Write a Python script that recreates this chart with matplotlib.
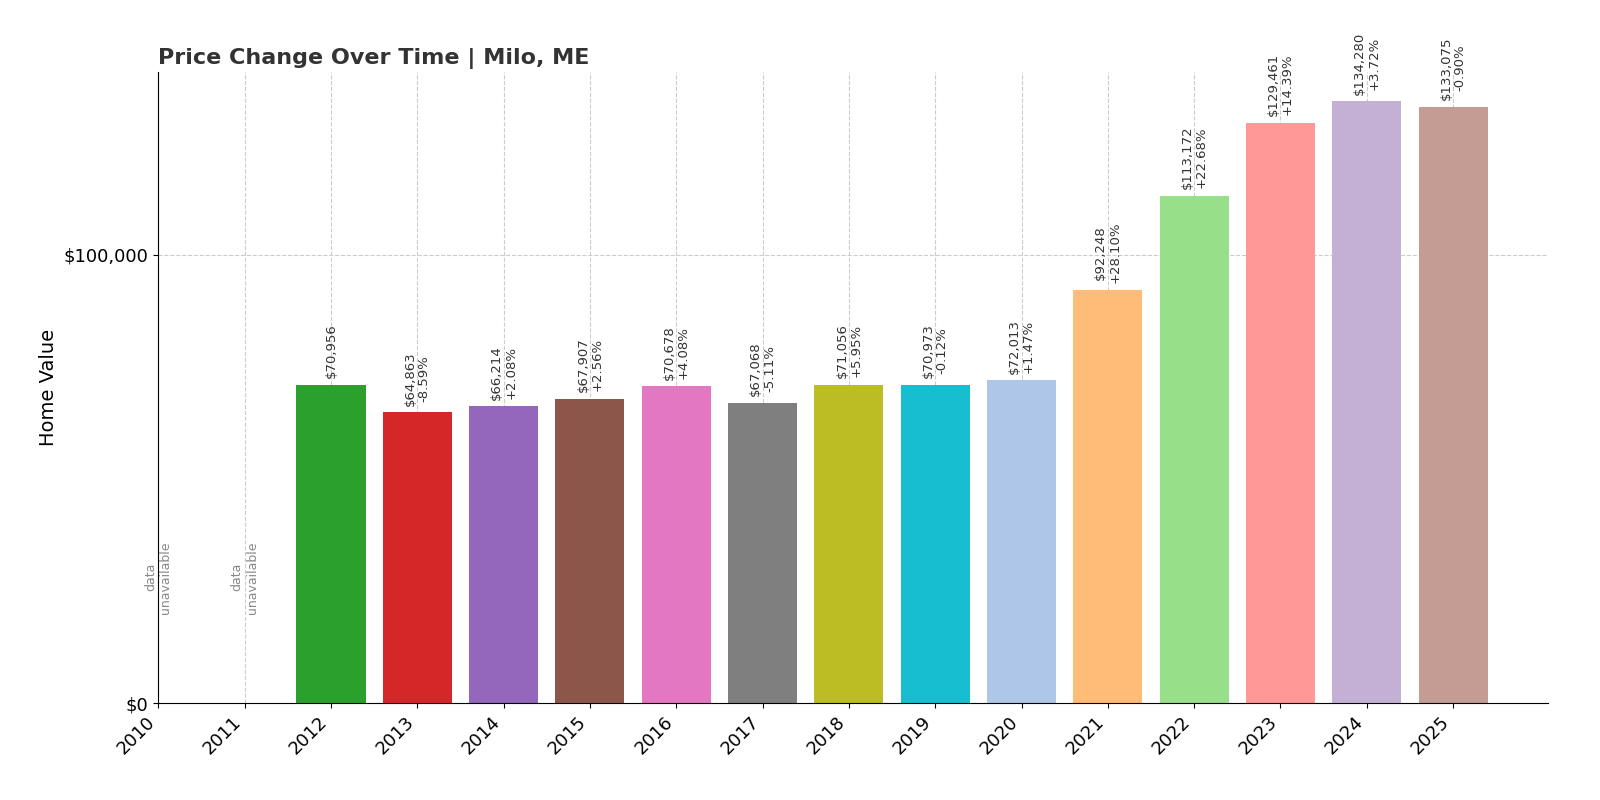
import matplotlib
matplotlib.use("Agg")
import matplotlib.pyplot as plt

YEARS = list(range(2010, 2026))
VALUES = [None, None, 70956, 64863, 66214, 67907, 70678, 67068, 71056, 70973,
          72013, 92248, 113172, 129461, 134280, 133075]
CHANGES = [None, None, None, -8.59, 2.08, 2.56, 4.08, -5.11, 5.95, -0.12,
           1.47, 28.10, 22.68, 14.39, 3.72, -0.90]
COLORS = ["#1f77b4", "#ff7f0e", "#2ca02c", "#d62728", "#9467bd", "#8c564b", "#e377c2",
          "#7f7f7f", "#bcbd22", "#17becf", "#aec7e8", "#ffbb78", "#98df8a", "#ff9896",
          "#c5b0d5", "#c49c94"]

fig, ax = plt.subplots(figsize=(16, 8), dpi=100)
fig.subplots_adjust(left=0.099, right=0.9675, top=0.91, bottom=0.121)

for i, (v, c) in enumerate(zip(VALUES, CHANGES)):
    if v is None:
        ax.text(i, 20000, "data\nunavailable", rotation=90, ha="center", va="bottom",
                fontsize=9, color="#888888")
        continue
    ax.bar(i, v, width=0.8, color=COLORS[i], zorder=2)
    lab = f"${v:,}"
    if c is not None:
        lab += f"\n{c:+.2f}%"
    ax.text(i, v + 1500, lab, rotation=90, ha="center", va="bottom", fontsize=9.5,
            color="#333333", linespacing=1.1)

ax.set_xlim(0, 16.1)
ax.set_ylim(0, 140800)
ax.set_xticks(range(len(YEARS)))
ax.set_xticklabels([str(y) for y in YEARS], rotation=45, ha="right", fontsize=13)
ax.set_yticks([0, 100000])
ax.set_yticklabels(["$0", "$100,000"], fontsize=13)
ax.set_ylabel("Home Value", fontsize=14)
ax.set_title("Price Change Over Time | Milo, ME", loc="left", fontsize=16,
             fontweight="bold", color="#333333")
ax.grid(color="#cccccc", linestyle="--", linewidth=0.8, zorder=0)
ax.set_axisbelow(True)
for s in ["top", "right"]:
    ax.spines[s].set_visible(False)

fig.savefig("out.png")
